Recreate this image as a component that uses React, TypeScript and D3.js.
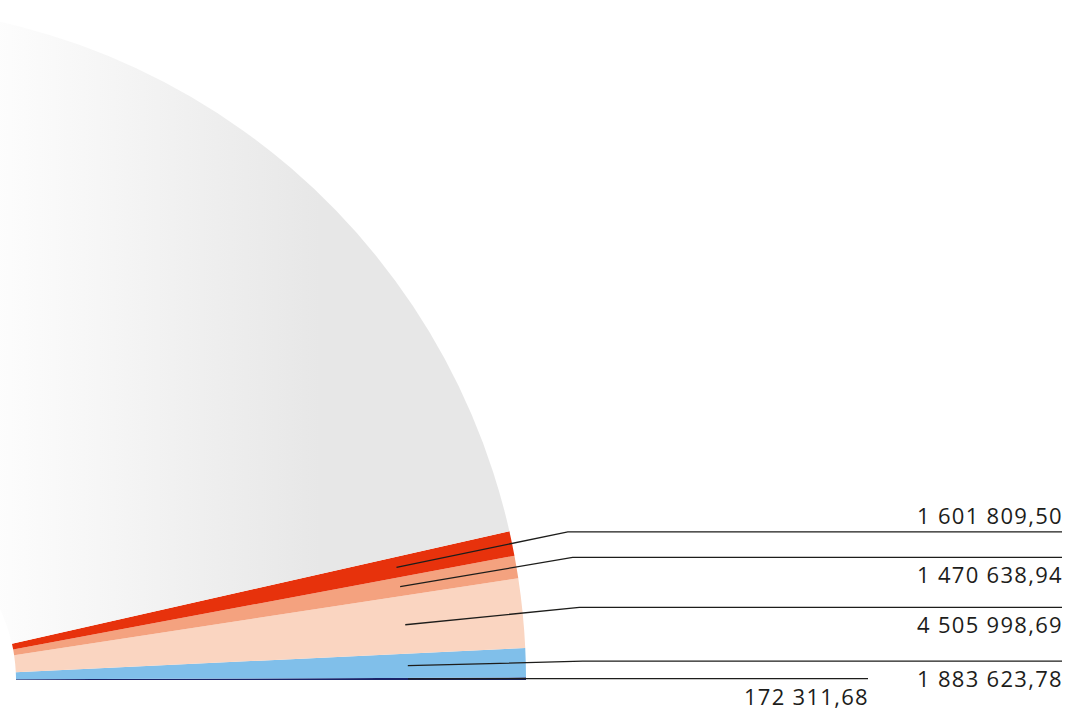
import React from 'react'
import * as d3 from 'd3'

// slices, counter-clockwise from 3 o'clock
const values = [172311.68, 1883623.78, 4505998.69, 1470638.94, 1601809.5]
const colors = ['#1b2468', '#80bfea', '#fad5c1', '#f4a27f', '#e7320c']
// remainder of the half circle (grey slice), estimated from its angle
const restValue = 126600000

const W = 1066
const H = 711

const fmt = d3.formatLocale({ decimal: ',', thousands: ' ', grouping: [3], currency: ['', ''] }).format(',.2f')

const App = () => {
    const cx = -149, cy = 680
    const inner = 165, outer = 675

    const all = [...values, restValue]
    // half donut, drawn upward from the right
    const pie = d3.pie<number>()
        .sort(null)
        .value(d => d)
        .startAngle(Math.PI / 2)
        .endAngle(-Math.PI / 2)
    const arcs = pie(all)

    const arc = d3.arc<d3.PieArcDatum<number>>().innerRadius(inner).outerRadius(outer)
    const startArc = d3.arc<d3.PieArcDatum<number>>().innerRadius(557).outerRadius(557)
    const kinkArc = d3.arc<d3.PieArcDatum<number>>().innerRadius(732).outerRadius(732)

    const lines = arcs.slice(0, values.length).map((a, i) => {
        const p0 = startArc.centroid(a)
        const p1 = kinkArc.centroid(a)
        // smallest slice gets a short line so its label sits under the others
        const endX = i === 0 ? 868 - cx : 1062 - cx
        const above = i === values.length - 1
        return { p0, p1, endX, above, text: fmt(values[i]), y: p1[1] }
    })

    return (
        <svg width={W} height={H} style={{ position: 'absolute', left: 0, top: 0, display: 'block' }}>
            <defs>
                <linearGradient id="greyGrad" gradientUnits="userSpaceOnUse" x1={-20 - cx} y1={0} x2={320 - cx} y2={0}>
                    <stop offset="0" stopColor="#fefefe" />
                    <stop offset="1" stopColor="#e7e7e7" />
                </linearGradient>
            </defs>
            <g transform={`translate(${cx},${cy})`}>
                {arcs.map((a, i) => (
                    <path key={i} d={arc(a) || ''} fill={i < values.length ? colors[i] : 'url(#greyGrad)'} />
                ))}
                {lines.map((l, i) => (
                    <g key={'l' + i}>
                        <polyline
                            points={`${l.p0[0]},${l.p0[1]} ${l.p1[0]},${l.p1[1]} ${l.endX},${l.p1[1]}`}
                            fill="none"
                            stroke="#1d1d1b"
                            strokeWidth={1.3}
                        />
                        <text
                            x={l.endX + 1}
                            y={l.above ? l.y - 8 : l.y + 26}
                            textAnchor="end"
                            fontFamily="'Open Sans', sans-serif"
                            fontSize={22}
                            letterSpacing={1.3}
                            fill="#1d1d1b"
                        >{l.text}</text>
                    </g>
                ))}
            </g>
        </svg>
    )
}

export default App
